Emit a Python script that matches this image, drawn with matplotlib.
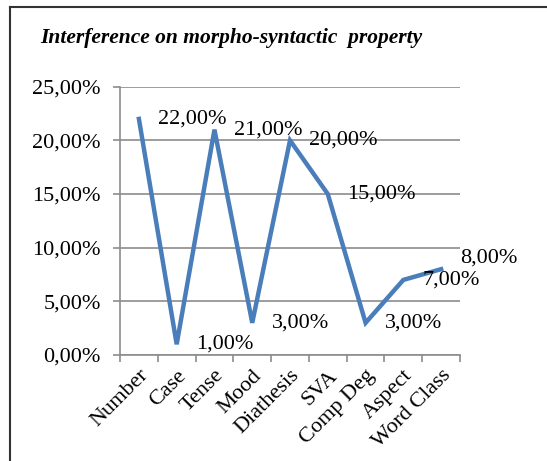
import matplotlib
matplotlib.use('Agg')
import matplotlib.pyplot as plt
from matplotlib.lines import Line2D
from matplotlib.ticker import FuncFormatter

# data
categories = ['Number', 'Case', 'Tense', 'Mood', 'Diathesis', 'SVA', 'Comp Deg', 'Aspect', 'Word Class']
values = [22, 1, 21, 3, 20, 15, 3, 7, 8]
yticks = [0, 5, 10, 15, 20, 25]

plt.rcParams['font.family'] = ['Liberation Serif', 'DejaVu Serif']

fig = plt.figure(figsize=(5.47, 4.61), dpi=100)
ax = fig.add_axes([0.2194, 0.2299, 0.6216, 0.582])

x = list(range(len(categories)))
ax.plot(x, values, color='#4A7EBB', lw=3.2, solid_joinstyle='miter', zorder=3)

# data labels sit to the right of each point
for xi, v in zip(x, values):
    dy = 0
    if categories[xi] == 'Word Class':
        dy = 8
    ax.annotate('%d,00%%' % v, (xi, v), xytext=(14, dy), textcoords='offset points',
                ha='left', va='center', fontsize=16, zorder=4)

ax.set_xlim(-0.5, len(categories) - 0.5)
ax.set_ylim(0, 25)
ax.set_yticks(yticks)
ax.yaxis.set_major_formatter(FuncFormatter(lambda v, p: '%d,00%%' % v))
ax.grid(axis='y', color='#8c8c8c', lw=1.2)
ax.set_axisbelow(True)

ax.set_xticks(x)
ax.set_xticklabels(categories, rotation=45, ha='right', rotation_mode='anchor')
ax.set_xticks([i - 0.5 for i in range(len(categories) + 1)], minor=True)
ax.tick_params(axis='x', which='major', length=0, labelsize=16, pad=8)
ax.tick_params(axis='x', which='minor', length=5, color='#8c8c8c', width=1.2)
ax.tick_params(axis='y', length=5, color='#8c8c8c', width=1.2, labelsize=16, pad=9)

for s in ['top', 'right']:
    ax.spines[s].set_visible(False)
for s in ['left', 'bottom']:
    ax.spines[s].set_color('#8c8c8c')
    ax.spines[s].set_linewidth(1.2)

fig.text(0.073, 0.918, 'Interference on morpho-syntactic  property', fontsize=15.5,
         fontweight='bold', fontstyle='italic', va='center', ha='left')

# chart frame (left and top edges visible)
fig.add_artist(Line2D([0.019, 0.019], [0, 0.985], color='#333333', lw=1.5, transform=fig.transFigure))
fig.add_artist(Line2D([0.019, 1.0], [0.985, 0.985], color='#333333', lw=1.5, transform=fig.transFigure))

fig.savefig('out.png', dpi=100)
